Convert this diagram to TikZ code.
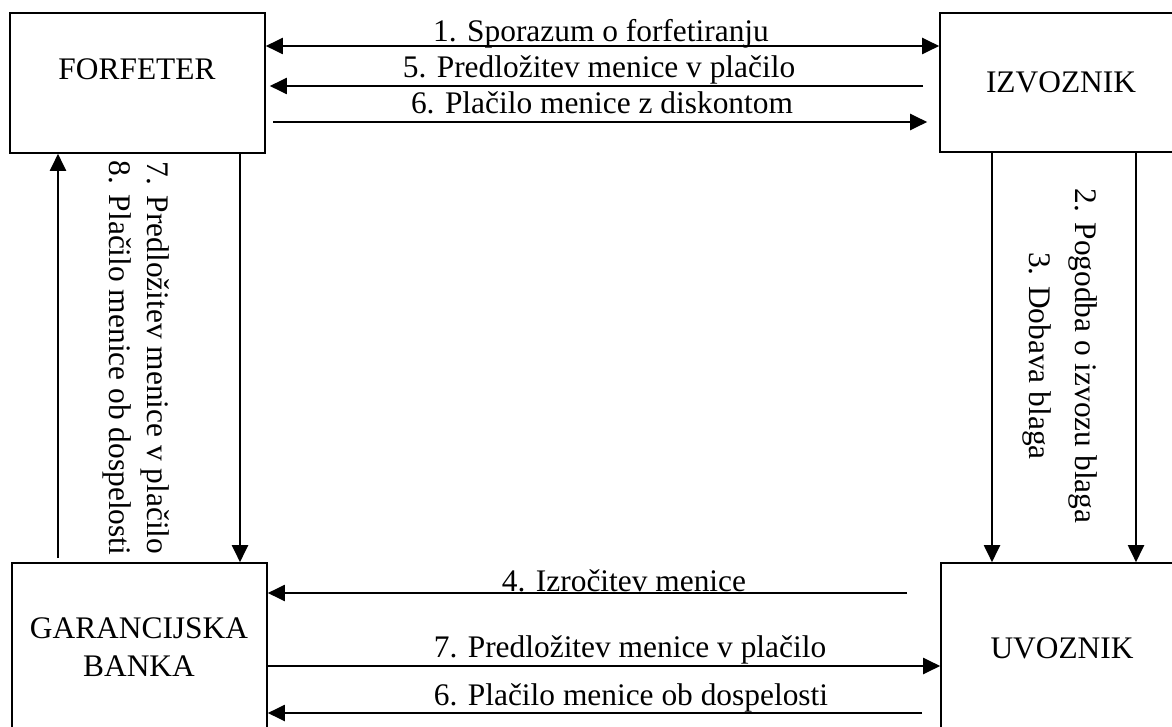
\documentclass[tikz,border=0pt]{standalone}
\usepackage{fontspec}
\setmainfont{Liberation Serif}
\usetikzlibrary{arrows.meta,fit}

\tikzset{
	box/.style={draw, line width=0.8pt, inner sep=0pt},
	txt/.style={font=\fontsize{15.7}{19}\selectfont, inner sep=0pt},
	arr/.style={line width=1pt, -{Triangle[length=8.5pt,width=8pt]}},
	darr/.style={line width=1pt, {Triangle[length=8.5pt,width=8pt]}-{Triangle[length=8.5pt,width=8pt]}},
}

\begin{document}
\begin{tikzpicture}[x=0.5pt,y=-0.5pt]
		%%%%% START %%%%%
		\useasboundingbox (0,0) rectangle (1172,727);
		\clip (0,0) rectangle (1172,727);
		\fill[white] (0,0) rectangle (1172,727);
		
		\node[box, fit={(10,13) (265,153)}] (forfeter) {};
		\node[box, fit={(940,13) (1230,152)}] (izvoznik) {};
		\node[box, fit={(12,563) (267,780)}] (banka) {};
		\node[box, fit={(941,563) (1230,780)}] (uvoznik) {};
		
		\node[txt] (forfeter-t) at (137,69) {FORFETER};
		\node[txt] (izvoznik-t) at (1061,82) {IZVOZNIK};
		\node[txt, align=center] (banka-t) at (139,647) {GARANCIJSKA\\BANKA};
		\node[txt] (uvoznik-t) at (1062,648) {UVOZNIK};
		
		% forfeter <-> izvoznik
		\coordinate (y1) at (0,46);
		\draw[darr] (forfeter.east |- y1) -- (izvoznik.west |- y1);
		\coordinate (s5) at (923,86);
		\draw[arr, shorten >=2pt] (s5) -- (s5 -| forfeter.east);
		\coordinate (s6) at (273,122);
		\draw[arr, shorten >=6pt] (s6) -- (s6 -| izvoznik.west);
		
		\node[txt, anchor=base] (l1) at (601,42) {1. Sporazum o forfetiranju};
		\node[txt, anchor=base] (l5) at (599,78) {5. Predložitev menice v plačilo};
		\node[txt, anchor=base] (l6) at (602,114) {6. Plačilo menice z diskontom};
		
		% forfeter <-> banka
		\coordinate (s8) at (58,558);
		\draw[arr] (s8) -- (s8 |- forfeter.south);
		\coordinate (x7) at (240,0);
		\draw[arr] (forfeter.south -| x7) -- (banka.north -| x7);
		\node[txt, rotate=-90, align=center] (l78) at (136,358) {7. Predložitev menice v plačilo\\8. Plačilo menice ob dospelosti};
		
		% izvoznik -> uvoznik
		\coordinate (x2) at (992,0);
		\coordinate (x3) at (1136,0);
		\draw[arr] (izvoznik.south -| x2) -- (uvoznik.north -| x2);
		\draw[arr] (izvoznik.south -| x3) -- (uvoznik.north -| x3);
		\node[txt, rotate=-90, align=center] (l23) at (1060,356) {2. Pogodba o izvozu blaga\\[4pt]3. Dobava blaga};
		
		% banka <-> uvoznik
		\coordinate (s4) at (907,593);
		\draw[arr] (s4) -- (s4 -| banka.east);
		\coordinate (y7) at (0,666);
		\draw[arr] (banka.east |- y7) -- (uvoznik.west |- y7);
		\coordinate (s6b) at (922,713);
		\draw[arr] (s6b) -- (s6b -| banka.east);
		
		\node[txt, anchor=base] (l4) at (624,591) {4. Izročitev menice};
		\node[txt, anchor=base] (l7) at (630,657) {7. Predložitev menice v plačilo};
		\node[txt, anchor=base] (l6b) at (631,705) {6. Plačilo menice ob dospelosti};
		%%%%% END %%%%%
\end{tikzpicture}
\end{document}
